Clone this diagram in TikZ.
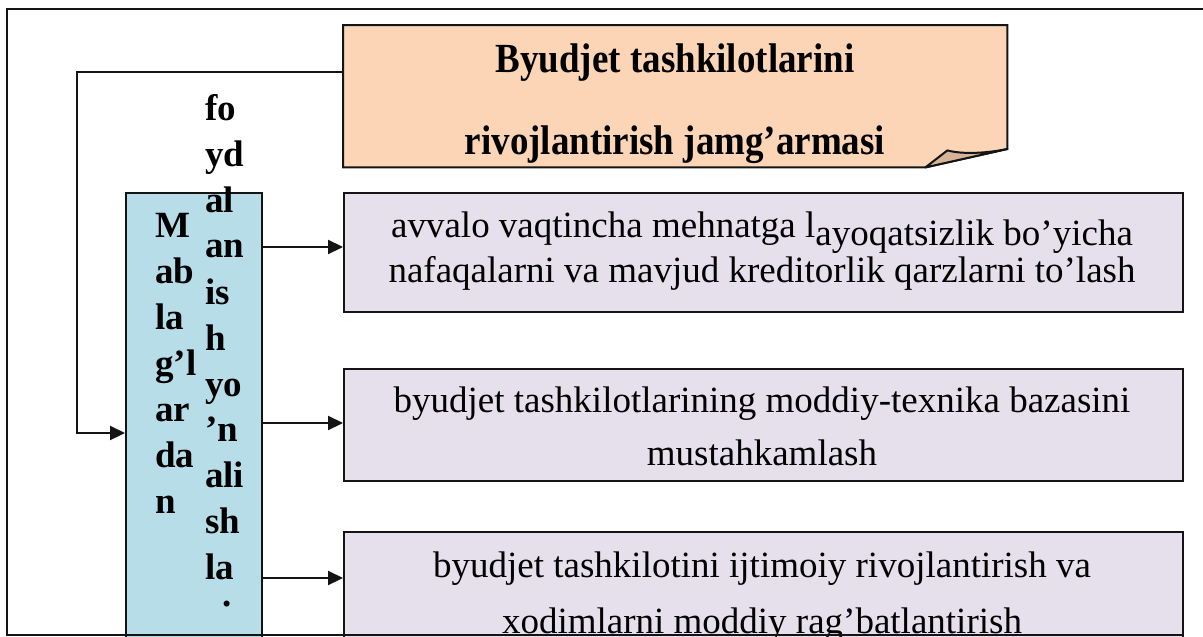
\documentclass[tikz,border=0pt]{standalone}
\usepackage{fontspec}
\setmainfont{Liberation Serif}
\usepackage{graphicx}
\usetikzlibrary{arrows.meta,calc}
\definecolor{orangefill}{HTML}{FBD5B5}
\definecolor{foldfill}{HTML}{D5B497}
\definecolor{bluefill}{HTML}{B7DDE8}
\definecolor{lavfill}{HTML}{E5E0EC}
\definecolor{linecol}{HTML}{141414}
\tikzset{
  framestyle/.style={line width=2.3pt, draw=linecol},
  lavbox/.style={draw=linecol, line width=2pt, fill=lavfill, inner sep=0pt, minimum width=839pt, anchor=north west},
  srcbox/.style={draw=linecol, line width=2pt, fill=bluefill, inner sep=0pt, minimum width=136pt, minimum height=480pt, anchor=north west},
  fundshape/.style={draw=linecol, line width=2pt, fill=orangefill, line join=miter},
  foldshape/.style={draw=linecol, line width=2pt, fill=foldfill, line join=round},
  ghost/.style={inner sep=0pt, anchor=north west},
  arr/.style={draw=linecol, line width=2.2pt, -{Triangle[length=15pt,width=14pt]}},
  regtext/.style={inner sep=0pt, anchor=base},
  boldcol/.style={inner sep=0pt, anchor=base west, font=\bfseries\fontsize{37}{46}\selectfont},
  fundtext/.style={inner sep=0pt, anchor=base, font=\bfseries\fontsize{37}{82}\selectfont},
}
\begin{document}
\begin{tikzpicture}[x=1pt,y=-1pt]
\useasboundingbox (0,0) rectangle (1203,637);
\begin{scope}
\clip (0,0) rectangle (1203,637);

% fund (orange note)
\node[ghost, minimum width=664pt, minimum height=142pt] (fund) at (343,25) {};
\draw[fundshape] (fund.north west) -- (fund.north east) -- ($(fund.north east)+(0,124)$)
  -- ($(fund.south east)+(-82,0)$) -- (fund.south west) -- cycle;
\draw[foldshape] ($(fund.south east)+(-82,0)$) -- ($(fund.south east)+(-60,-17)$)
  .. controls ($(fund.south east)+(-45,-13)$) and ($(fund.south east)+(-22,-14)$) .. ($(fund.north east)+(0,124)$) -- cycle;
\node[fundtext] (fundtxt) at (675,72) {\begin{tabular}[t]{@{}c@{}}\scalebox{1}[1.12]{Byudjet tashkilotlarini}\\ \scalebox{1}[1.12]{rivojlantirish jamg’armasi}\end{tabular}};

% target boxes
\node[lavbox, minimum height=119pt] (b1) at (343,192) {};
\node[lavbox, minimum height=112pt] (b2) at (343,368) {};
\node[lavbox, minimum height=120pt] (b3) at (343,531) {};

\node[regtext, font=\fontsize{37}{45}\selectfont] (t1) at (762,237)
  {\begin{tabular}[t]{@{}c@{}}avvalo vaqtincha mehnatga l\raisebox{-8pt}[0pt][0pt]{ayoqatsizlik bo’yicha}\\ nafaqalarni va mavjud kreditorlik qarzlarni to’lash\end{tabular}};
\node[regtext, font=\fontsize{37}{53}\selectfont] (t2) at (762,412)
  {\begin{tabular}[t]{@{}c@{}}byudjet tashkilotlarining moddiy-texnika bazasini\\ mustahkamlash\end{tabular}};
\node[regtext, font=\fontsize{37}{56}\selectfont] (t3) at (762,577)
  {\begin{tabular}[t]{@{}c@{}}byudjet tashkilotini ijtimoiy rivojlantirish va\\ xodimlarni moddiy rag’batlantirish\end{tabular}};

% source box
\node[srcbox] (src) at (125,192) {};
\node[boldcol] (srctxtA) at (155,237)
  {\begin{tabular}[t]{@{}l@{}}M\\ ab\\ la\\ g’l\\ ar\\ da\\ n\end{tabular}};
\node[boldcol] (srctxtB) at (205,120)
  {\begin{tabular}[t]{@{}l@{}}fo\\ yd\\ al\\ an\\ is\\ h\\ yo\\ ’n\\ ali\\ sh\\ la\\[-19pt] \hspace*{17pt}.\end{tabular}};

% connectors
\coordinate (r1) at (0,247);
\coordinate (r2) at (0,423);
\coordinate (r3) at (0,578);
\draw[arr] (src.east |- r1) -- (b1.west |- r1);
\draw[arr] (src.east |- r2) -- (b2.west |- r2);
\draw[arr] (src.east |- r3) -- (b3.west |- r3);

\coordinate (fbstart) at ($(fund.north west)+(0,47)$);
\coordinate (fbcorner) at (77,72);
\draw[arr] (fbstart) -- (fbcorner) |- (src.west);

% outer frame
\draw[framestyle] (1210,9) -- (7,9) -- (7,635) -- (1183,635);
\end{scope}
\end{tikzpicture}
\end{document}
